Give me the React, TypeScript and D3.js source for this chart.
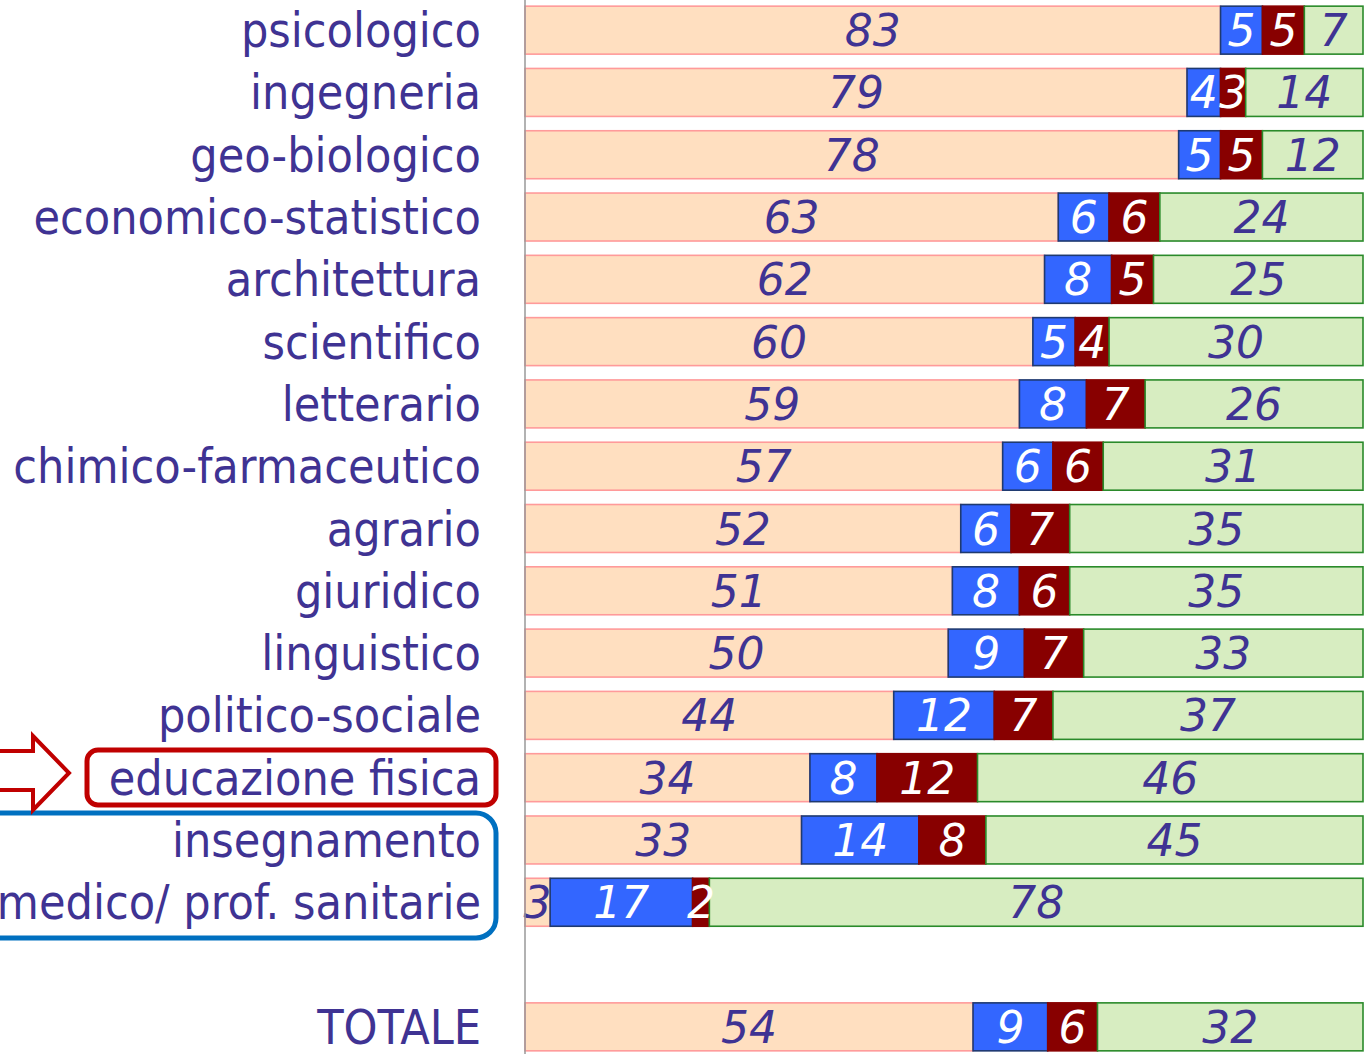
import React from 'react';
import { scaleBand, scaleLinear } from 'd3';

// categories top to bottom ('' = empty spacer row before the total)
const categories = [
  'psicologico',
  'ingegneria',
  'geo-biologico',
  'economico-statistico',
  'architettura',
  'scientifico',
  'letterario',
  'chimico-farmaceutico',
  'agrario',
  'giuridico',
  'linguistico',
  'politico-sociale',
  'educazione fisica',
  'insegnamento',
  'medico/ prof. sanitarie',
  '',
  'TOTALE',
];

// four stacked shares per row (percent)
const share1 = [83, 79, 78, 63, 62, 60, 59, 57, 52, 51, 50, 44, 34, 33, 3, null, 54];
const share2 = [5, 4, 5, 6, 8, 5, 8, 6, 6, 8, 9, 12, 8, 14, 17, null, 9];
const share3 = [5, 3, 5, 6, 5, 4, 7, 6, 7, 6, 7, 7, 12, 8, 2, null, 6];
const share4 = [7, 14, 12, 24, 25, 30, 26, 31, 35, 35, 33, 37, 46, 45, 78, null, 32];

const segStyle = [
  { fill: '#FFDFC0', stroke: '#FF9A9A', text: '#3F3393' },
  { fill: '#3366FF', stroke: '#1F3A70', text: '#FFFFFF' },
  { fill: '#880000', stroke: '#880000', text: '#FFFFFF' },
  { fill: '#D7EDC1', stroke: '#2A8A2A', text: '#3F3393' },
];

const labelFont = "'DejaVu Sans Condensed', 'DejaVu Sans', sans-serif";
const numFont = "'DejaVu Sans', sans-serif";

const App = () => {
  const width = 1370;
  const height = 1054;
  const x0 = 525;
  const x1 = 1363;

  const y = scaleBand<string>()
    .domain(categories.map((c, i) => String(i)))
    .range([-1, 1058])
    .paddingInner(0.23)
    .paddingOuter(0.115);

  const x = scaleLinear().domain([0, 100]).range([x0, x1]);

  const series = [share1, share2, share3, share4];

  return (
    <svg
      width={width}
      height={height}
      style={{ display: 'block', position: 'absolute', left: 0, top: 0, background: '#ffffff' }}
    >
      {categories.map((cat, i) => {
        const top = y(String(i))!;
        const bw = y.bandwidth();
        const cy = top + bw / 2;
        const vals = series.map((s) => s[i]);
        const rows = [] as React.ReactNode[];
        if (cat) {
          rows.push(
            <text
              key="lab"
              x={481}
              y={cy + 17}
              textAnchor="end"
              fontFamily={labelFont}
              fontStretch="condensed"
              fontSize={48}
              fill="#3F3393"
            >
              {cat}
            </text>
          );
        }
        if (vals[0] == null) return <g key={i}>{rows}</g>;
        const total = (vals as number[]).reduce((a, b) => a + b, 0);
        let acc = 0;
        const segs = (vals as number[]).map((v, k) => {
          const a = x((acc / total) * 100);
          acc += v;
          const b = x((acc / total) * 100);
          return { a, b, v, k };
        });
        segs.forEach(({ a, b, k }) => {
          rows.push(
            <rect
              key={'r' + k}
              x={a}
              y={top}
              width={b - a}
              height={bw}
              fill={segStyle[k].fill}
              stroke={segStyle[k].stroke}
              strokeWidth={1.6}
            />
          );
        });
        segs.forEach(({ a, b, v, k }) => {
          rows.push(
            <text
              key={'t' + k}
              x={(a + b) / 2}
              y={cy + 16}
              textAnchor="middle"
              fontFamily={numFont}
              fontStyle="italic"
              fontSize={44}
              fill={segStyle[k].text}
            >
              {v}
            </text>
          );
        });
        return <g key={i}>{rows}</g>;
      })}

      {/* axis line */}
      <line x1={x0} x2={x0} y1={0} y2={height} stroke="#999999" strokeWidth={1.5} />

      {/* highlight boxes */}
      <rect x={87} y={750} width={409} height={55} rx={11} fill="none" stroke="#C00000" strokeWidth={5} />
      <rect x={-30} y={813} width={526} height={125} rx={20} fill="none" stroke="#0070C0" strokeWidth={5} />
      <path
        d="M-5,751 L33,751 L33,736 L69,773 L33,810 L33,790 L-5,790 Z"
        fill="#ffffff"
        stroke="#C00000"
        strokeWidth={4}
      />
    </svg>
  );
};

export default App;
